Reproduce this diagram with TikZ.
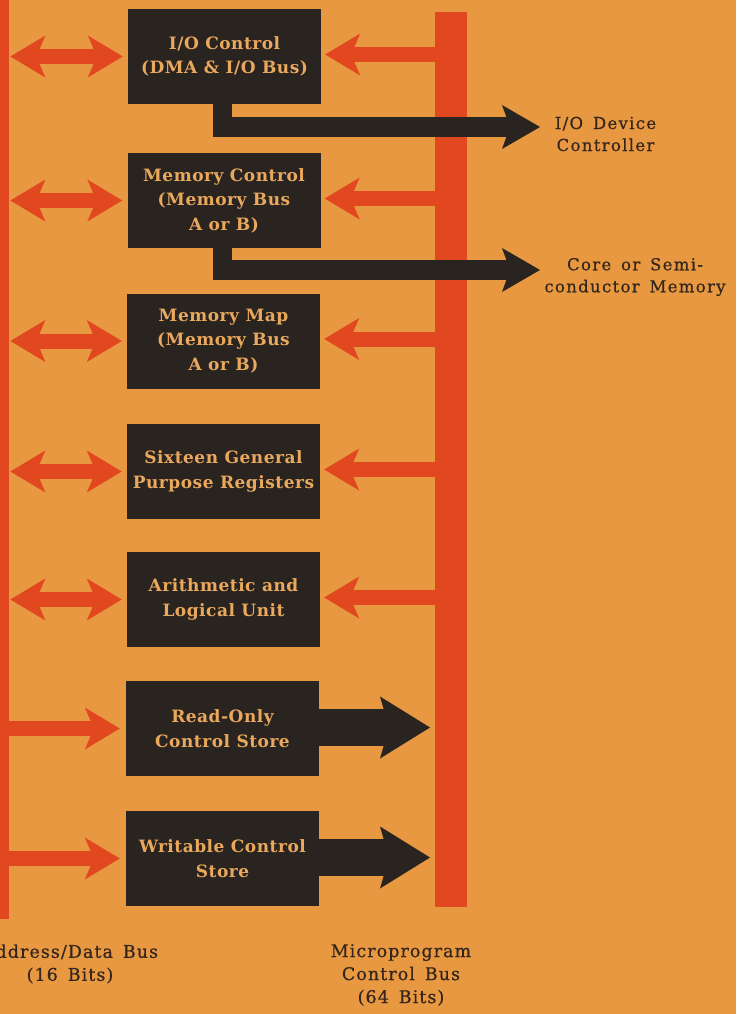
\documentclass[tikz,border=0pt]{standalone}
\usepackage{fontspec}
\setmainfont{DejaVu Serif}
\newfontfamily\boxfont[LetterSpace=3]{DejaVu Serif}
\newfontfamily\labfont[LetterSpace=8,WordSpace=1.5,FakeBold=0.6]{DejaVu Serif}
\newfontfamily\blabfont[LetterSpace=6,WordSpace=1.5,FakeBold=0.6]{DejaVu Serif}
\usetikzlibrary{arrows.meta}
\definecolor{bgcol}{RGB}{232,152,64}
\definecolor{buscol}{RGB}{226,72,32}
\definecolor{boxcol}{RGB}{42,36,33}
\definecolor{boxtext}{RGB}{234,168,92}
\definecolor{labcol}{RGB}{52,38,28}
\tikzset{
  box/.style={fill=boxcol, minimum width=193pt, minimum height=95pt, inner sep=0pt,
    text=boxtext, align=center, font=\boxfont\bfseries\fontsize{17}{24.5}\selectfont},
  busbar/.style={fill=buscol, inner sep=0pt, anchor=north west},
  redarr/.style={draw=buscol, line width=15pt},
  rtip/.tip={Stealth[length=35pt,width=42pt,inset=9pt,line width=0pt]},
  blkconn/.style={draw=boxcol, line width=19.5pt, line join=miter},
  btip/.tip={Stealth[length=38pt,width=44pt,inset=8pt,line width=0pt]},
  blkarr/.style={draw=boxcol, line width=37pt},
  bbtip/.tip={Stealth[length=50pt,width=62pt,inset=9pt,line width=0pt]},
  lab/.style={text=labcol, align=center, inner sep=0pt, font=\labfont\fontsize{16.5}{22}\selectfont},
  blab/.style={text=labcol, align=center, inner sep=0pt, font=\blabfont\fontsize{17.5}{23}\selectfont}
}
\begin{document}
\begin{tikzpicture}[x=1pt,y=-1pt]
\useasboundingbox (0,0) rectangle (736,1014);
\clip (0,0) rectangle (736,1014);
\fill[bgcol] (0,0) rectangle (736,1014);

% buses
\node[busbar, minimum width=9pt, minimum height=919pt] (lbus) at (0,0) {};
\node[busbar, minimum width=32pt, minimum height=895pt] (rbus) at (435,12) {};

% boxes
\node[box] (b1) at (224.5,56.5) {I/O Control\\(DMA \& I/O Bus)};
\node[box] (b2) at (224,200.5) {Memory Control\\(Memory Bus\\A or B)};
\node[box] (b3) at (223.5,341) {Memory Map\\(Memory Bus\\A or B)};
\node[box] (b4) at (223.5,471.5) {Sixteen General\\Purpose Registers};
\node[box] (b5) at (223.5,599.5) {Arithmetic and\\Logical Unit};
\node[box] (b6) at (222.5,728.5) {Read-Only\\Control Store};
\node[box] (b7) at (222.5,858.5) {Writable Control\\Store};

% left double arrows
\foreach \b in {b1,b2,b3,b4,b5}{
  \draw[redarr, {rtip}-{rtip}] ([xshift=1pt]lbus.east |- \b.west) -- ([xshift=-5pt]\b.west);
}
% left single arrows
\foreach \b in {b6,b7}{
  \draw[redarr, -{rtip}] (lbus.center |- \b.west) -- ([xshift=-6pt]\b.west);
}
% right red arrows from microprogram bus
\foreach \b in {b1,b2,b3,b4,b5}{
  \draw[redarr, -{rtip}] ([yshift=2pt]rbus.center |- \b.east) -- ([xshift=4pt,yshift=2pt]\b.east);
}
% black arrows into microprogram bus
\foreach \b in {b6,b7}{
  \draw[blkarr, -{bbtip}] ([yshift=1pt]\b.east) -- ([xshift=-5pt,yshift=1pt]rbus.west |- \b.east);
}

% L connectors to external devices
\coordinate (iodev) at (540,127);
\coordinate (coremem) at (540,270);
\draw[blkconn, -{btip}] ([xshift=-2pt]b1.south) |- (iodev);
\draw[blkconn, -{btip}] ([xshift=-1.5pt]b2.south) |- (coremem);

% external labels
\node[lab] (liodev) at (605.5,134) {I/O Device\\Controller};
\node[lab] (lcore) at (635,277) {Core or Semi-\\conductor Memory};

% bus labels
\node[blab] (ladb) at (70,964) {Address/Data Bus\\(16 Bits)};
\node[blab] (lmcb) at (401,975) {Microprogram\\Control Bus\\(64 Bits)};
\end{tikzpicture}
\end{document}
